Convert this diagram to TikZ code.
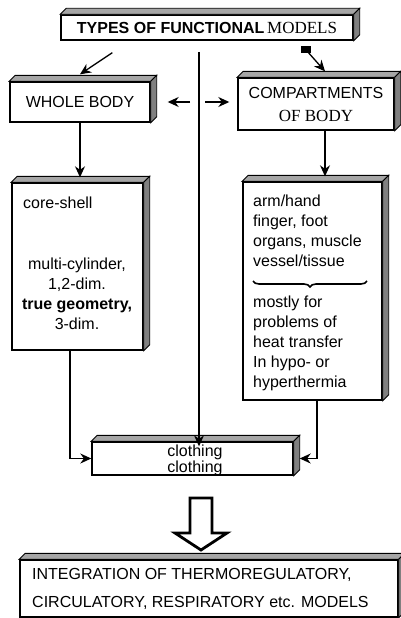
\documentclass[tikz,border=0pt]{standalone}
\usepackage{fontspec}
\setmainfont{Liberation Sans}
\newfontfamily\romanfont{Liberation Serif}
\usetikzlibrary{arrows.meta, calc, decorations.pathreplacing}

\tikzset{
    slab/.style={draw, line width=1.4pt, fill=white, inner sep=0pt,
        font=\fontsize{16}{20}\selectfont},
    topface/.style={draw, line width=0.9pt, fill=black!35},
    sideface/.style={draw, line width=0.9pt, fill=black!50},
    arr/.style={line width=1.3pt, -{Stealth[length=11pt,width=10pt]}},
    txt/.style={inner sep=0pt, font=\fontsize{16}{20}\selectfont}
}
% top and right faces of a box
\newcommand{\slabdepth}[1]{%
    \draw[topface] (#1.north west) -- ++(6,-6)
        -- ($(#1.north east)+(6,-6)$) -- (#1.north east) -- cycle;
    \draw[sideface] (#1.north east) -- ++(6,-6)
        -- ($(#1.south east)+(6,-6)$) -- (#1.south east) -- cycle;
}

\begin{document}
\begin{tikzpicture}[x=1pt, y=-1pt]
    \useasboundingbox (0,0) rectangle (401,618);

    % boxes
    \node[slab, minimum width=292pt, minimum height=25pt] (types) at (207,27.5)
        {\textbf{TYPES OF FUNCTIONAL}\,{\romanfont\fontsize{17}{20}\selectfont MODELS}};
    \node[slab, minimum width=140pt, minimum height=40pt] (whole) at (80,102)
        {WHOLE BODY};
    \node[slab, minimum width=156pt, minimum height=52pt, align=center,
        font=\fontsize{16}{23}\selectfont] (comp) at (316,104)
        {COMPARTMENTS\\{\romanfont\fontsize{17}{23}\selectfont OF BODY}};
    \node[slab, minimum width=131pt, minimum height=167pt] (core) at (77.5,266.5) {};
    \node[slab, minimum width=139pt, minimum height=218pt] (detail) at (312.5,291) {};
    \node[slab, minimum width=201pt, minimum height=33pt] (clothing) at (192.5,458.5) {};
    \node[slab, minimum width=378pt, minimum height=57pt] (integ) at (209,588.5) {};
    \foreach \b in {types,whole,comp,core,detail,clothing,integ}
        {\slabdepth{\b}}

    % texts inside the boxes
    \node[txt, anchor=base west] (coreTxt) at (23,208) {core-shell};
    \node[txt, anchor=north, align=center] (cylTxt) at (77,258)
        {multi-cylinder,\\1,2-dim.\\\textbf{true geometry,}\\3-dim.};
    \node[txt, anchor=north west, align=left] (partsTxt) at (253,195)
        {arm/hand\\finger, foot\\organs, muscle\\vessel/tissue};
    \draw[line width=1.6pt, decorate, decoration={brace, mirror, amplitude=6pt}]
        (253,281) -- (367,281);
    \node[txt, anchor=north west, align=left] (useTxt) at (253,296)
        {mostly for\\problems of\\heat transfer\\In hypo- or\\hyperthermia};
    \node[txt, anchor=base] (clothA) at (195,456) {clothing};
    \node[txt, anchor=base] (clothB) at (195,472) {clothing};
    \node[txt, anchor=north west, align=left, font=\fontsize{16}{28}\selectfont]
        (integTxt) at (32,568)
        {INTEGRATION OF THERMOREGULATORY,\\CIRCULATORY, RESPIRATORY etc. MODELS};

    % connectors
    \coordinate (split) at (199,52);
    \draw[arr] ($(types.south west)+(52,12)$) -- ($(whole.north)+(0,-7)$);
    \fill ($(types.south east)+(-53,5)$) rectangle ++(10,7);
    \draw[arr] ($(types.south east)+(-47,10)$) -- ($(comp.north)+(9,-6)$);
    \draw[arr, shorten >=-5pt] (split) -- (split |- clothing.north);
    \draw[arr] ($(split |- whole.east)+(-9,0)$) -- ($(whole.east)+(17,0)$);
    \draw[arr] ($(split |- whole.east)+(6,0)$) -- ($(comp.west |- whole.east)+(-8,0)$);
    \draw[arr] (whole.south) -- ($(core.north)+(2.5,-5)$);
    \draw[arr] ($(comp.south)+(9,0)$) -- ($(detail.north)+(12.5,-5)$);
    \draw[arr] ($(core.south)+(-7.5,0)$) |- (clothing.west);
    \draw[arr] ($(detail.south)+(4.5,0)$) |- ($(clothing.east)+(6,0)$);

    % hollow arrow to the integration box
    \draw[line width=2.8pt, fill=white, line join=miter]
        (190,498) -- (212,498) -- (212,533) -- (227,533) -- (201,550)
        -- (175,533) -- (190,533) -- cycle;
\end{tikzpicture}
\end{document}
